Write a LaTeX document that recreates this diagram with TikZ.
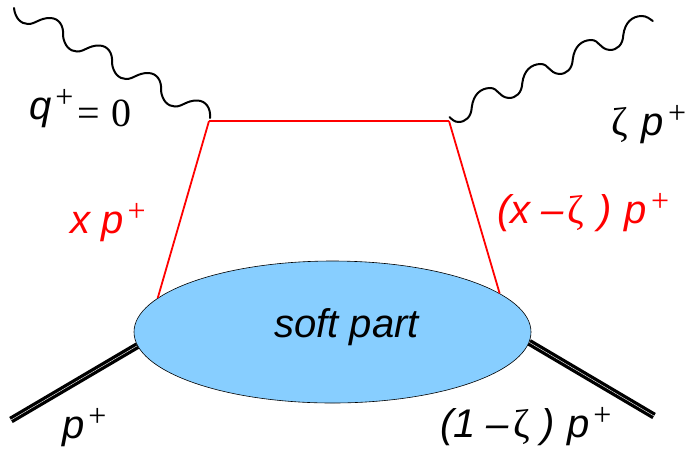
\documentclass[tikz,border=0pt]{standalone}
\usepackage{fontspec}
\setmainfont{Liberation Sans}
\newfontfamily\symbfont{Liberation Serif}
\usetikzlibrary{shapes.geometric,backgrounds}
\definecolor{softblue}{RGB}{135,206,255}
\newcommand{\bigfont}{\fontsize{40}{44}\selectfont}
\newcommand{\zetaup}{{\symbfont\upshape ζ}}
\newcommand{\plusup}{\kern 4pt\raisebox{0.3em}{\fontsize{32}{32}\selectfont\symbfont\upshape +}}
\begin{document}
\begin{tikzpicture}[
		x=1pt, y=-1pt,
		quark/.style={draw=red, line width=1.8pt},
		photon/.style={draw=black, line width=2pt, line cap=round},
		hadron/.style={draw=black, line width=3.3pt, double=white, double distance=0.4pt},
		blob/.style={ellipse, draw=black, fill=softblue, line width=0.6pt, inner sep=0pt, minimum width=397pt, minimum height=142pt},
		lab/.style={anchor=base west, inner sep=0pt, font=\bigfont\itshape, text=black},
		redlab/.style={lab, text=red}
		]
		\useasboundingbox (0,0) rectangle (693,451);
		% Vertices
		\coordinate (vl) at (209,121);
		\coordinate (vr) at (449,121);
		\coordinate (hl) at (11,420);
		\coordinate (hr) at (654,416);
		% Soft part
		\node[blob] (soft) at (332.5,332) {};
		\node[lab] (softlab) at (274,337) {soft part};
		% Hadron lines
		\begin{scope}[on background layer]
			\draw[hadron] (hl) -- (soft.184.4);
			\draw[hadron] (soft.-3.2) -- (hr);
		\end{scope}
		% Quark lines
		\draw[quark] (vl) -- (vr);
		\draw[quark] (vl) -- (soft.169.1);
		\draw[quark] (vr) -- (soft.13.6);
		% Incoming photon
		\foreach \i in {0,...,3}
			\draw[photon, shift={(14+49*\i,8+27.5*\i)}] (0,0) .. controls (1,10) and (7,16) .. (14,16) .. controls (22,16) and (25,10) .. (36,10) .. controls (45,10) and (50,18) .. (49,27.5);
		% Outgoing photon
		\coordinate (qout) at (449.5,117);
		\draw[photon] (qout) .. controls (451.5,119) and (454.5,122) .. (458.3,122);
		\foreach \i in {0,1,2}
			\draw[photon, shift={(458.3+50.5*\i,122-24*\i)}] (0,0) .. controls (7.3,0) and (13,-5) .. (13.5,-15) .. controls (15,-27) and (22,-34) .. (32,-34) .. controls (40,-34) and (40,-25) .. (50.5,-24);
		\draw[photon, shift={(609.8,50)}] (0,0) .. controls (7.3,0) and (13,-5) .. (13.5,-15) .. controls (15,-27) and (22,-34) .. (32,-34) .. controls (37,-34) and (40,-31) .. (43,-29);
		% Labels
		\node[lab] (qlab) at (29,119) {q\plusup\kern 4pt\raisebox{-7pt}{\symbfont\upshape =\kern 11pt 0}};
		\node[lab] (zlab) at (611,135) {\zetaup\kern 3pt\ p\plusup};
		\node[redlab] (xlab) at (70,233) {x p\plusup};
		\node[redlab] (xzlab) at (497,223) {(x –\kern 4pt\zetaup\kern 3pt\ )\kern 2pt\ p\plusup};
		\node[lab] (plab) at (62,438) {p\plusup};
		\node[lab] (oneminus) at (440,437) {(1 –\kern 4pt\zetaup\kern 1pt\ )\kern 1pt\ p\plusup};
		\end{tikzpicture}
\end{document}
